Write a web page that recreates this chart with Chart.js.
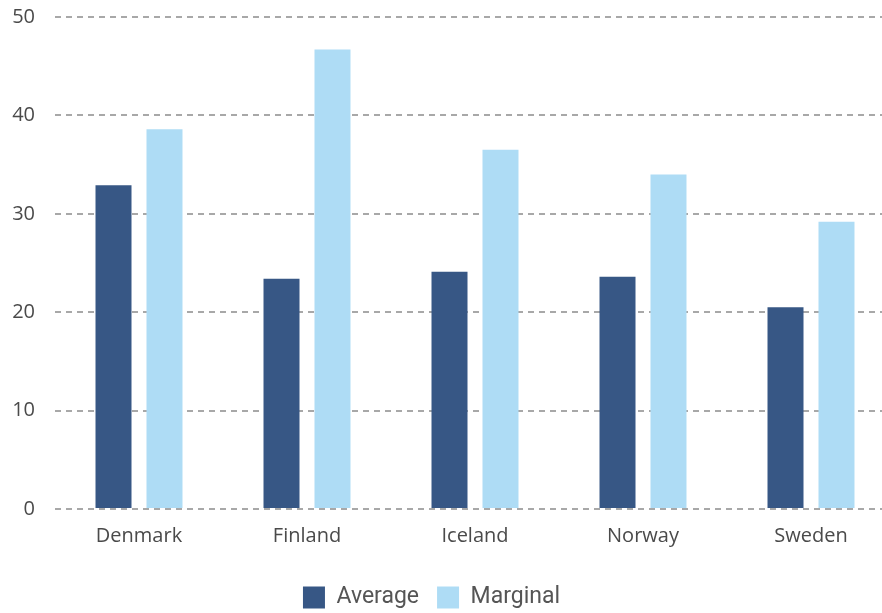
<!DOCTYPE html>
<html>
<head>
<meta charset="utf-8">
<script src="https://cdn.jsdelivr.net/npm/chart.js@4"></script>
<style>
  html, body { margin: 0; padding: 0; background: #fff; overflow: hidden; }
  #wrap { width: 895px; height: 628px; position: relative; top: -15px; }
</style>
</head>
<body>
<div id="wrap"><canvas id="chart"></canvas></div>
<script>
const countries = ["Denmark", "Finland", "Iceland", "Norway", "Sweden"];
const averageRate = [32.9, 23.4, 24.1, 23.6, 20.5];
const marginalRate = [38.6, 46.7, 36.5, 34.0, 29.2];
const yTicks = [0, 10, 20, 30, 40, 50];

const textColor = "#4a4a4a";
const tickFont = "'Open Sans', sans-serif";
const legendFont = "Roboto, sans-serif";

// nudge the legend left of the canvas centre and a bit lower
const legendShift = {
    id: "legendShift",
    afterLayout(chart) {
        const lg = chart.legend;
        lg.left -= 16;
        lg.right -= 16;
        lg.top += 6;
        lg.bottom += 6;
    },
};

new Chart(document.getElementById("chart"), {
    type: "bar",
    data: {
        labels: countries,
        datasets: [
            {
                label: "Average",
                data: averageRate,
                backgroundColor: "#375785",
                categoryPercentage: 0.607,
                barPercentage: 0.706,
            },
            {
                label: "Marginal",
                data: marginalRate,
                backgroundColor: "#aedcf5",
                categoryPercentage: 0.607,
                barPercentage: 0.706,
            },
        ],
    },
    plugins: [legendShift],
    options: {
        responsive: true,
        maintainAspectRatio: false,
        animation: false,
        layout: { padding: 0 },
        plugins: {
            tooltip: { enabled: false },
            legend: {
                position: "bottom",
                labels: {
                    boxWidth: 22,
                    boxHeight: 22,
                    padding: 18,
                    color: "#555",
                    font: { family: legendFont, size: 23 },
                },
            },
        },
        scales: {
            x: {
                afterFit: (scale) => { scale.height += 7; },
                grid: { display: false },
                border: { display: false },
                ticks: {
                    color: textColor,
                    padding: 7,
                    font: { family: tickFont, size: 20 },
                },
            },
            y: {
                min: 0,
                max: 50,
                afterFit: (scale) => { scale.width = 55; },
                afterBuildTicks: (scale) => {
                    scale.ticks = yTicks.map((v) => ({ value: v }));
                },
                grid: {
                    drawTicks: false,
                    color: "#a8a8a8",
                    lineWidth: 2,
                },
                border: { display: false, dash: [6, 5] },
                ticks: {
                    color: textColor,
                    padding: 20,
                    font: { family: tickFont, size: 20 },
                },
            },
        },
    },
});
</script>
</body>
</html>
